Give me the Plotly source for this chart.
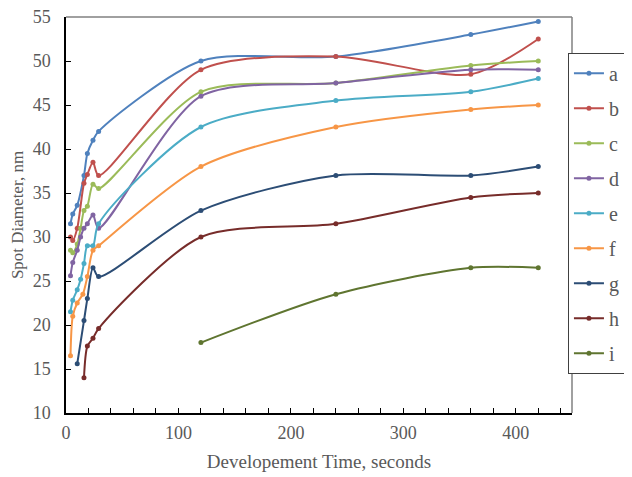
import plotly.graph_objects as go

# ---- data ----
series_names = ["a", "b", "c", "d", "e", "f", "g", "h", "i"]

t_a = [4, 6, 10, 16, 19, 24, 29, 120, 240, 360, 420]
v_a = [31.5, 32.6, 33.6, 37.0, 39.5, 41.0, 42.0, 50.0, 50.5, 53.0, 54.5]

t_b = [4, 6, 10, 16, 19, 24, 29, 120, 240, 360, 420]
v_b = [30.0, 29.6, 31.0, 36.1, 37.1, 38.5, 37.0, 49.0, 50.5, 48.5, 52.5]

t_c = [4, 6, 10, 13, 16, 19, 24, 29, 120, 240, 360, 420]
v_c = [28.5, 28.2, 29.2, 31.0, 33.0, 33.5, 36.0, 35.5, 46.5, 47.5, 49.5, 50.0]

t_d = [4, 6, 10, 13, 16, 19, 24, 29, 120, 240, 360, 420]
v_d = [25.6, 27.1, 28.5, 30.0, 31.0, 31.5, 32.5, 31.0, 46.0, 47.5, 49.0, 49.0]

t_e = [4, 6, 10, 13, 16, 19, 24, 29, 120, 240, 360, 420]
v_e = [21.5, 22.8, 24.0, 25.2, 27.0, 29.0, 29.0, 31.5, 42.5, 45.5, 46.5, 48.0]

t_f = [4, 6, 10, 15, 19, 24, 29, 120, 240, 360, 420]
v_f = [16.5, 21.0, 22.5, 23.5, 25.5, 28.5, 29.0, 38.0, 42.5, 44.5, 45.0]

t_g = [10, 16, 19, 24, 29, 120, 240, 360, 420]
v_g = [15.6, 20.5, 23.0, 26.5, 25.5, 33.0, 37.0, 37.0, 38.0]

t_h = [16, 19, 24, 29, 120, 240, 360, 420]
v_h = [14.0, 17.6, 18.5, 19.6, 30.0, 31.5, 34.5, 35.0]

t_i = [120, 240, 360, 420]
v_i = [18.0, 23.5, 26.5, 26.5]

times = [t_a, t_b, t_c, t_d, t_e, t_f, t_g, t_h, t_i]
values = [v_a, v_b, v_c, v_d, v_e, v_f, v_g, v_h, v_i]
colors = ["#4F81BD", "#C0504D", "#9BBB59", "#8064A2", "#4BACC6",
          "#F79646", "#2C4D75", "#772C2A", "#5F7530"]

x_title = "Developement Time, seconds"
y_title = "Spot Diameter, nm"

FONT = "Liberation Serif, Times New Roman, serif"
GRAY = "#595959"

fig = go.Figure()
for name, tx, vy, col in zip(series_names, times, values, colors):
    fig.add_trace(go.Scatter(
        x=tx, y=vy, name=name, legendgroup=name,
        mode="lines+markers",
        line=dict(color=col, width=2, shape="spline", smoothing=0.8),
        marker=dict(color=col, size=5),
    ))

fig.update_layout(
    width=632, height=477,
    margin=dict(l=58, r=68, t=9, b=72, autoexpand=False),
    paper_bgcolor="white", plot_bgcolor="white",
    font=dict(family=FONT, color=GRAY, size=18),
    showlegend=True,
    legend=dict(
        x=0.992, xanchor="left", y=0.91, yanchor="top",
        bordercolor="#404040", borderwidth=1, bgcolor="white",
        font=dict(family=FONT, size=20, color=GRAY),
        tracegroupgap=6, itemwidth=30,
    ),
    xaxis=dict(
        range=[0, 450], tickvals=[0, 100, 200, 300, 400],
        ticks="inside", ticklen=5, tickcolor="black",
        minor=dict(dtick=20, ticks="inside", ticklen=5, tickcolor="black"),
        showline=True, linecolor="black", linewidth=1.5,
        showgrid=False, zeroline=False, automargin=False,
        ticklabelstandoff=3, ticklabeloverflow="allow",
        tickfont=dict(family=FONT, size=18, color=GRAY),
        title=dict(text=x_title, font=dict(family=FONT, size=19, color=GRAY), standoff=12),
    ),
    yaxis=dict(
        range=[10, 55], dtick=5,
        ticks="inside", ticklen=5, tickcolor="black",
        showline=True, linecolor="black", linewidth=1.5,
        showgrid=False, zeroline=False, automargin=False,
        ticklabelstandoff=10, ticklabeloverflow="allow",
        tickfont=dict(family=FONT, size=18, color=GRAY),
        title=dict(text=y_title, font=dict(family=FONT, size=17, color=GRAY), standoff=6),
    ),
    shapes=[
        dict(type="line", xref="paper", yref="paper", x0=0, x1=1, y0=1, y1=1,
             line=dict(color="#808080", width=1.5)),
        dict(type="line", xref="paper", yref="paper", x0=1, x1=1, y0=0, y1=1,
             line=dict(color="#808080", width=1.5)),
    ],
)

fig.write_html("out.html")
